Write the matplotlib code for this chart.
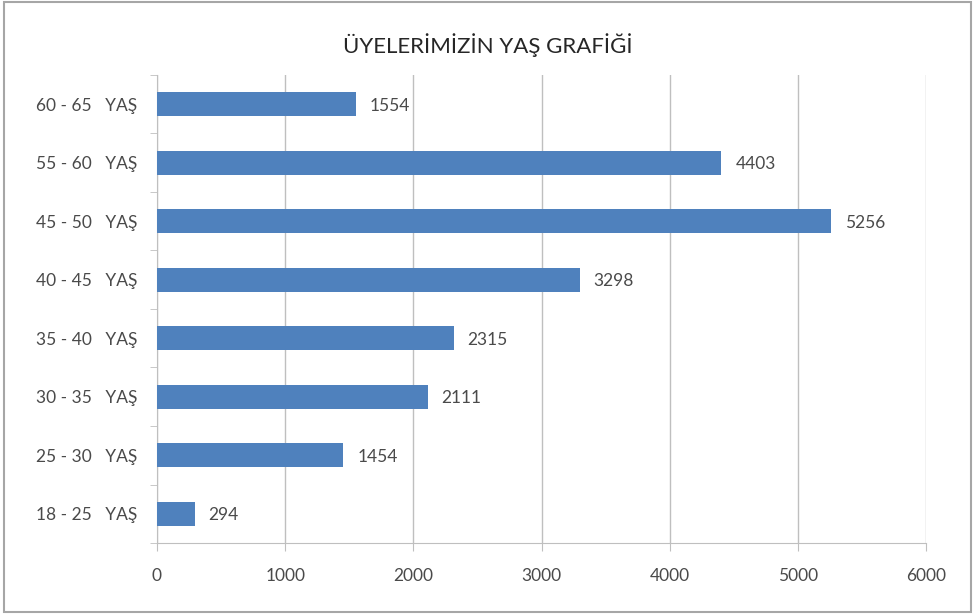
import matplotlib.pyplot as plt
from matplotlib.patches import Rectangle
import numpy as np

plt.rcParams['font.family'] = ['Lato', 'DejaVu Sans']

categories = ["18 - 25   YAŞ", "25 - 30   YAŞ", "30 - 35   YAŞ", "35 - 40   YAŞ",
              "40 - 45   YAŞ", "45 - 50   YAŞ", "55 - 60   YAŞ", "60 - 65   YAŞ"]
values = [294, 1454, 2111, 2315, 3298, 5256, 4403, 1554]
x_ticks = [0, 1000, 2000, 3000, 4000, 5000, 6000]
title = "ÜYELERİMİZİN YAŞ GRAFİĞİ"

text_color = "#4a4a4a"
grid_color = "#bfbfbf"

fig = plt.figure(figsize=(9.75, 6.14), dpi=100)
ax = fig.add_axes([0.161, 0.1156, 0.789, 0.7624])

pos = np.arange(len(categories))
ax.barh(pos, values, height=0.41, color="#4f81bd", zorder=3)

for p, v in zip(pos, values):
    ax.annotate(str(v), (v, p), xytext=(10, -1), textcoords="offset points",
                va="center", ha="left", fontsize=12.5, color=text_color)

ax.set_xlim(0, 6000)
ax.set_ylim(-0.5, len(categories) - 0.5)
ax.set_xticks(x_ticks)
ax.set_xticklabels([str(t) for t in x_ticks], fontsize=12.5, color=text_color)
ax.set_yticks(pos)
ax.set_yticklabels(categories, fontsize=12.5, color=text_color)
ax.set_yticks(np.arange(-0.5, len(categories), 1), minor=True)

ax.tick_params(axis="y", which="major", length=0, pad=14)
ax.tick_params(axis="y", which="minor", length=5, color=grid_color, direction="out")
ax.tick_params(axis="x", length=6, color=grid_color, pad=12)

ax.grid(axis="x", color=grid_color, linewidth=1, zorder=0)
for s in ["top", "right"]:
    ax.spines[s].set_visible(False)
for s in ["left", "bottom"]:
    ax.spines[s].set_color(grid_color)

fig.text(0.5, 0.927, title, ha="center", va="center", fontsize=16, color="#262626")
fig.patches.append(Rectangle((0.004, 0.004), 0.992, 0.992, transform=fig.transFigure,
                             fill=False, edgecolor="#a6a6a6", linewidth=1.5))

fig.savefig("out.png", dpi=100)
